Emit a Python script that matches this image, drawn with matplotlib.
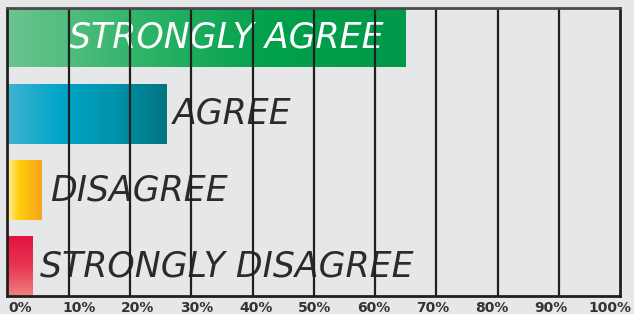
import numpy as np
import matplotlib
matplotlib.use("Agg")
import matplotlib.pyplot as plt
from matplotlib.colors import LinearSegmentedColormap

categories = ["STRONGLY AGREE", "AGREE", "DISAGREE", "STRONGLY DISAGREE"]
values = [65, 26, 5.6, 4.2]
ticks = [0, 10, 20, 30, 40, 50, 60, 70, 80, 90, 100]
tick_labels = [f"{t}%" for t in ticks]

# gradient stops per bar and direction
gradients = [
    (["#6cc48e", "#2fb46a", "#00a04b", "#009a4a"], "h"),
    (["#40b4d0", "#00a5c8", "#0093ad", "#00757f"], "h"),
    (["#fff0a8", "#ffcf10", "#fbb812", "#f8a51c"], "h"),
    (["#e2143f", "#e73553", "#f08080"], "v"),
]
label_x = [10, 27, 7, 5.3]
label_colors = ["white", "#2b2b2b", "#2b2b2b", "#2b2b2b"]

BG = "#e6e7e8"
INK = "#231f20"

fig = plt.figure(figsize=(6.34, 3.14), dpi=100, facecolor=BG)
ax = fig.add_axes([0.0118, 0.057, 0.9664, 0.918])
ax.set_facecolor(BG)

h = 0.78
ys = np.arange(len(categories))
for y, v, (cols, direction) in zip(ys, values, gradients):
    cmap = LinearSegmentedColormap.from_list("g", cols)
    if direction == "h":
        grad = np.linspace(0, 1, 256).reshape(1, -1)
    else:
        grad = np.linspace(0, 1, 256).reshape(-1, 1)
    ax.imshow(grad, cmap=cmap, aspect="auto", interpolation="bicubic",
              extent=(0, v, y + h / 2, y - h / 2), zorder=1)

for y, lab, lx, c in zip(ys, categories, label_x, label_colors):
    ax.text(lx, y, lab, ha="left", va="center", fontsize=25, color=c,
            family="DejaVu Sans", style="italic", zorder=2)

for t in ticks[1:-1]:
    ax.axvline(t, color=INK, lw=1.6, zorder=3)

ax.set_xlim(0, 100)
ax.set_ylim(len(categories) - 1 + h / 2, -h / 2)
# the labels in the source are spread evenly across the full width, not on the lines
ax.set_xticks(np.linspace(2.0, 98.4, len(ticks)))
ax.set_xticklabels(tick_labels, fontsize=10, fontweight="bold", color="#333333")
ax.set_yticks([])
ax.tick_params(axis="x", length=0, pad=3.5)
for s in ax.spines.values():
    s.set_color(INK)
    s.set_linewidth(2)
    s.set_zorder(4)
ax.spines["top"].set_color("#4a4a4a")

fig.savefig("out.png", dpi=100, facecolor=BG)
